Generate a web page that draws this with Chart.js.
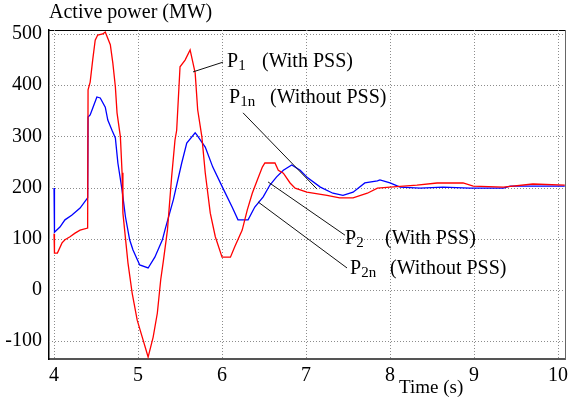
<!DOCTYPE html>
<html>
<head>
<meta charset="utf-8">
<script src="https://cdn.jsdelivr.net/npm/chart.js@4.4.0/dist/chart.umd.min.js"></script>
<style>
  html, body { margin: 0; padding: 0; background: #fff; }
</style>
</head>
<body>
<canvas id="powerChart" width="568" height="403"></canvas>
<script>
// Red curve (time in s, active power in MW)
const redTime = [4.00, 4.005, 4.04, 4.095, 4.13, 4.19, 4.25, 4.31, 4.40, 4.405, 4.43, 4.46, 4.49, 4.52, 4.58, 4.61,
    4.67, 4.70, 4.73, 4.75, 4.79, 4.81, 4.82, 4.88, 4.93, 4.99, 5.05, 5.12, 5.18, 5.23, 5.27, 5.30, 5.35, 5.40,
    5.44, 5.46, 5.50, 5.56, 5.62, 5.68, 5.71, 5.76, 5.80, 5.86, 5.92, 6.00, 6.10, 6.15, 6.24, 6.30, 6.36, 6.42,
    6.48, 6.51, 6.63, 6.67, 6.73, 6.81, 6.87, 7.01, 7.25, 7.40, 7.56, 7.73, 7.85, 8.00, 8.32, 8.56, 8.87, 8.99,
    9.35, 9.70, 10.08];
const redPower = [110, 72, 72, 92, 98, 104, 111, 117, 121, 391, 406, 449, 488, 498, 500, 504,
    479, 443, 397, 346, 299, 229, 150, 53, -6, -59, -92, -131, -92, -45, 20, 55, 117, 221,
    293, 312, 436, 449, 469, 424, 352, 299, 229, 150, 104, 64, 64, 84, 117, 156, 189, 215,
    240, 248, 248, 234, 228, 209, 199, 191, 185, 180, 180, 189, 199, 201, 205, 209, 209, 203,
    201, 207, 205];

// Blue curve
const blueTime = [4.00, 4.005, 4.07, 4.13, 4.21, 4.31, 4.40, 4.405, 4.43, 4.46, 4.51, 4.55, 4.61, 4.64, 4.69,
    4.73, 4.76, 4.81, 4.85, 4.90, 4.94, 5.02, 5.12, 5.20, 5.29, 5.32, 5.42, 5.52, 5.58, 5.68, 5.70, 5.80,
    5.89, 6.01, 6.12, 6.19, 6.31, 6.39, 6.49, 6.57, 6.65, 6.73, 6.83, 6.93, 7.02, 7.17, 7.32, 7.44, 7.56,
    7.70, 7.85, 7.88, 8.00, 8.12, 8.36, 8.63, 8.95, 9.35, 9.43, 10.08];
const bluePower = [199, 113, 123, 137, 146, 160, 180, 338, 342, 355, 377, 375, 357, 332, 312,
    297, 248, 195, 143, 98, 78, 49, 43, 64, 98, 117, 176, 248, 287, 307, 303, 279,
    240, 199, 162, 137, 137, 162, 182, 205, 221, 234, 244, 234, 219, 201, 189, 185, 191,
    209, 213, 215, 209, 201, 199, 201, 199, 199, 203, 203];

const xTicks = [4, 5, 6, 7, 8, 9, 10];
const yTicks = [-100, 0, 100, 200, 300, 400, 500];

const serif = "'Liberation Serif', 'Times New Roman', serif";
const X_MIN = 3.94, X_MAX = 10.083, Y_MIN = -134.8, Y_MAX = 507.8;

// callout labels with leader lines, placed in data coordinates
const notes = [
    { sub: '1', tail: '(With PSS)', at: [6.06, 435.5], gap: 35, from: [6.012, 445], to: [5.655, 426] },
    { sub: '1n', tail: '(Without PSS)', at: [6.083, 365], gap: 41, from: [6.25, 346], to: [7.131, 197] },
    { sub: '2', tail: '(With PSS)', at: [7.464, 90], gap: 40, from: [7.464, 107], to: [6.548, 211] },
    { sub: '2n', tail: '(Without PSS)', at: [7.524, 31], gap: 40, from: [7.488, 43], to: [6.429, 172] }
];

function segment(ctx, x1, y1, x2, y2) {
    ctx.beginPath();
    ctx.moveTo(x1, y1);
    ctx.lineTo(x2, y2);
    ctx.stroke();
}

// dotted grid drawn under the curves
const gridPlugin = {
    id: 'dottedGrid',
    beforeDatasetsDraw(chart) {
        const ctx = chart.ctx;
        const xs = chart.scales.x, ys = chart.scales.y;
        const l = xs.getPixelForValue(X_MIN), r = xs.getPixelForValue(X_MAX);
        const t = ys.getPixelForValue(Y_MAX), b = ys.getPixelForValue(Y_MIN);
        ctx.save();
        ctx.strokeStyle = '#8c8c8c';
        ctx.lineWidth = 1;
        ctx.setLineDash([1, 2]);
        xTicks.forEach(v => {
            const px = Math.round(xs.getPixelForValue(v)) + 0.5;
            segment(ctx, px, t, px, b);
        });
        yTicks.forEach(v => {
            const py = Math.round(ys.getPixelForValue(v)) + 0.5;
            segment(ctx, l, py, r, py);
        });
        ctx.restore();
    }
};

const notePlugin = {
    id: 'notes',
    afterDraw(chart) {
        const ctx = chart.ctx;
        const xs = chart.scales.x, ys = chart.scales.y;
        ctx.save();
        ctx.fillStyle = '#000';
        ctx.textBaseline = 'alphabetic';
        ctx.textAlign = 'left';
        notes.forEach(n => {
            ctx.strokeStyle = '#111';
            ctx.lineWidth = 1;
            segment(ctx, xs.getPixelForValue(n.from[0]), ys.getPixelForValue(n.from[1]),
                xs.getPixelForValue(n.to[0]), ys.getPixelForValue(n.to[1]));

            const px = xs.getPixelForValue(n.at[0]);
            const py = ys.getPixelForValue(n.at[1]);
            ctx.font = '20px ' + serif;
            ctx.fillText('P', px, py);
            const w = ctx.measureText('P').width;
            ctx.font = '15px ' + serif;
            ctx.fillText(n.sub, px + w, py + 3);
            ctx.font = '20px ' + serif;
            ctx.fillText(n.tail, px + n.gap, py);
        });

        // axis titles
        ctx.font = '20px ' + serif;
        ctx.fillText('Active power (MW)', 49, 17.5);
        ctx.font = '19px ' + serif;
        ctx.fillText('Time (s)', 399, 393);
        ctx.restore();
    }
};

const noGrid = { color: 'rgba(0,0,0,0)', drawTicks: false };

new Chart(document.getElementById('powerChart').getContext('2d'), {
    type: 'line',
    data: {
        datasets: [{
            label: 'Red',
            data: redTime.map((t, i) => ({ x: t, y: redPower[i] })),
            borderColor: '#ff0000',
            borderWidth: 1.3,
            pointRadius: 0,
            tension: 0
        }, {
            label: 'Blue',
            data: blueTime.map((t, i) => ({ x: t, y: bluePower[i] })),
            borderColor: '#0000ff',
            borderWidth: 1.3,
            pointRadius: 0,
            tension: 0
        }]
    },
    options: {
        responsive: false,
        animation: false,
        layout: { padding: { top: 30, right: 3, left: 0, bottom: 0 } },
        plugins: {
            legend: { display: false },
            tooltip: { enabled: false }
        },
        scales: {
            x: {
                type: 'linear',
                min: X_MIN,
                max: X_MAX,
                afterBuildTicks: axis => { axis.ticks = xTicks.map(v => ({ value: v })); },
                afterFit: axis => { axis.height = 44; axis.paddingLeft = 0; axis.paddingRight = 0; },
                grid: noGrid,
                border: { color: '#555', width: 2 },
                ticks: {
                    color: '#000',
                    padding: 5,
                    maxRotation: 0,
                    font: { family: serif, size: 20 },
                    callback: v => String(v)
                }
            },
            // top edge of the frame
            xTop: {
                type: 'linear',
                position: 'top',
                min: X_MIN,
                max: X_MAX,
                afterFit: axis => { axis.height = 0; axis.paddingLeft = 0; axis.paddingRight = 0; },
                grid: noGrid,
                border: { color: '#000', width: 1 },
                ticks: { display: false }
            },
            y: {
                min: Y_MIN,
                max: Y_MAX,
                afterBuildTicks: axis => { axis.ticks = yTicks.map(v => ({ value: v })); },
                afterFit: axis => { axis.width = 49; axis.paddingTop = 0; axis.paddingBottom = 0; },
                grid: noGrid,
                border: { color: '#000', width: 1.5 },
                ticks: {
                    color: '#000',
                    padding: 7,
                    font: { family: serif, size: 20 },
                    callback: v => String(v)
                }
            },
            // right edge of the frame
            yRight: {
                position: 'right',
                min: Y_MIN,
                max: Y_MAX,
                afterFit: axis => { axis.width = 0; axis.paddingTop = 0; axis.paddingBottom = 0; },
                grid: noGrid,
                border: { color: '#666', width: 1 },
                ticks: { display: false }
            }
        }
    },
    plugins: [gridPlugin, notePlugin]
});
</script>
</body>
</html>
